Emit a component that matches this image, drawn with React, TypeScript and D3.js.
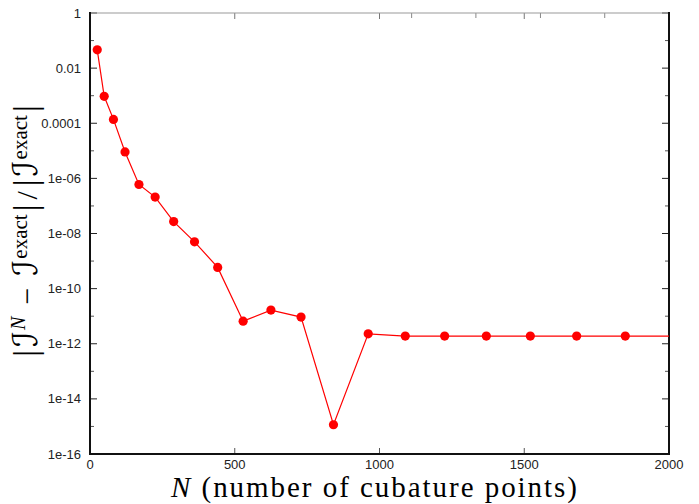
import * as d3 from "d3";

// N = (2k+1)^2 cubature sizes, relative error
const nValues = [25, 49, 81, 121, 169, 225, 289, 361, 441, 529, 625, 729, 841, 961, 1089, 1225, 1369, 1521, 1681, 1849, 2025];
const errorValues = [
    4.6e-2, 9.5e-4, 1.38e-4, 9.1e-6, 6.0e-7, 2.1e-7, 2.7e-8, 5.0e-9, 5.9e-10, 6.6e-12,
    1.66e-11, 9.3e-12, 1.15e-15, 2.3e-12, 1.9e-12, 1.9e-12, 1.9e-12, 1.9e-12, 1.9e-12, 1.9e-12, 1.9e-12
];
const yTickValues = [1, 1e-2, 1e-4, 1e-6, 1e-8, 1e-10, 1e-12, 1e-14, 1e-16];
const yTickLabels = ["1", "0.01", "0.0001", "1e-06", "1e-08", "1e-10", "1e-12", "1e-14", "1e-16"];
const yMinorValues = [1e-1, 1e-3, 1e-5, 1e-7, 1e-9, 1e-11, 1e-13, 1e-15];
const xTickValues = [0, 500, 1000, 1500, 2000];
const xTopExtra = [1111, 1333, 1556, 1778];

const W = 699;
const H = 504;
const margin = {top: 13, right: 30, bottom: 50, left: 90};

export default function App() {
    const x = d3.scaleLinear().domain([0, 2000]).range([margin.left, W - margin.right]);
    const y = d3.scaleLog().domain([1e-16, 1]).range([H - margin.bottom, margin.top]);

    const pts = nValues.map((n, i) => ({n, e: errorValues[i]}));
    const line = d3.line<{n: number, e: number}>()
        .x(d => x(d.n))
        .y(d => y(d.e));

    const x0 = x(0), x1 = x(2000), y0 = y(1e-16), y1 = y(1);
    const calI = "ℐ";
    const calFont = "DejaVu Serif, DejaVu Sans, serif";
    const serif = "Liberation Serif, Times New Roman, serif";

    // pieces of the rotated y title: [text, gap before, shift, size, font, italic]
    const yTitle: [string, number, number, number, string, boolean][] = [
        ["|", 0, 0, 34, serif, false],
        [calI, 3, 0, 34, calFont, true],
        ["N", 1, -12, 20, serif, true],
        ["−", 12, 12, 30, serif, false],
        [calI, 12, 0, 34, calFont, true],
        ["exact", 1, -10, 21, serif, false],
        ["|", 3, 10, 34, serif, false],
        ["/", 5, 0, 30, serif, false],
        ["|", 5, 0, 34, serif, false],
        [calI, 3, 0, 34, calFont, true],
        ["exact", 1, -10, 21, serif, false],
        ["|", 3, 10, 34, serif, false],
    ];

    return (
        <svg width={W} height={H} style={{position: "absolute", left: 0, top: 0, background: "#fff"}}
             fontFamily="Liberation Sans, Arial, sans-serif">
            <defs>
                <clipPath id="plotclip">
                    <rect x={x0} y={y1} width={x1 - x0} height={y0 - y1}/>
                </clipPath>
            </defs>

            {/* y ticks, both sides, inward */}
            {yTickValues.map((v, i) => (
                <g key={"yt" + i}>
                    <line x1={x0} x2={x0 + 7} y1={y(v)} y2={y(v)} stroke="#222" strokeWidth={1}/>
                    <line x1={x1} x2={x1 - 7} y1={y(v)} y2={y(v)} stroke="#222" strokeWidth={1}/>
                    <text x={x0 - 9} y={y(v)} dy="0.35em" textAnchor="end" fontSize={13} fill="#222">
                        {yTickLabels[i]}
                    </text>
                </g>
            ))}
            {yMinorValues.map((v, i) => (
                <g key={"ym" + i}>
                    <line x1={x0} x2={x0 + 4} y1={y(v)} y2={y(v)} stroke="#555" strokeWidth={1}/>
                    <line x1={x1} x2={x1 - 4} y1={y(v)} y2={y(v)} stroke="#555" strokeWidth={1}/>
                </g>
            ))}

            {/* x ticks */}
            {xTickValues.map((v, i) => (
                <g key={"xt" + i}>
                    <line x1={x(v)} x2={x(v)} y1={y0} y2={y0 - 6} stroke="#555" strokeWidth={1}/>
                    <line x1={x(v)} x2={x(v)} y1={y1} y2={y1 + 6} stroke="#777" strokeWidth={1}/>
                    <text x={x(v)} y={y0 + 15} textAnchor="middle" fontSize={13} fill="#222">{v}</text>
                </g>
            ))}
            {xTopExtra.map((v, i) => (
                <line key={"xe" + i} x1={x(v)} x2={x(v)} y1={y1} y2={y1 + 5} stroke="#888" strokeWidth={1}/>
            ))}

            {/* frame */}
            <line x1={x0} x2={x1} y1={y1} y2={y1} stroke="#999" strokeWidth={1}/>
            <line x1={x0} x2={x0} y1={y1 - 1} y2={y0 + 1} stroke="#111" strokeWidth={2}/>
            <line x1={x1} x2={x1} y1={y1 - 1} y2={y0 + 1} stroke="#111" strokeWidth={2}/>
            <line x1={x0 - 1} x2={x1 + 1} y1={y0} y2={y0} stroke="#111" strokeWidth={2}/>

            <g clipPath="url(#plotclip)">
                <path d={line(pts) ?? ""} fill="none" stroke="#ff0000" strokeWidth={1.2}/>
                {pts.map((d, i) => (
                    <circle key={"p" + i} cx={x(d.n)} cy={y(d.e)} r={4.6} fill="#ff0000"/>
                ))}
            </g>

            {/* x axis title */}
            <text x={(170 + 578) / 2} y={497} textAnchor="middle" fontSize={29}
                  fontFamily={serif} fill="#000" textLength={406} lengthAdjust="spacing">
                <tspan fontStyle="italic">N</tspan> (number of cubature points)
            </text>

            {/* y axis title */}
            <text transform="translate(37,231) rotate(-90)" textAnchor="middle" fill="#000">
                {yTitle.map(([t, gap, shift, fs, ff, it], i) => (
                    <tspan key={"yl" + i} dx={gap} dy={shift} fontSize={fs} fontFamily={ff}
                           fontStyle={it ? "italic" : "normal"}>{t}</tspan>
                ))}
            </text>
        </svg>
    );
}
